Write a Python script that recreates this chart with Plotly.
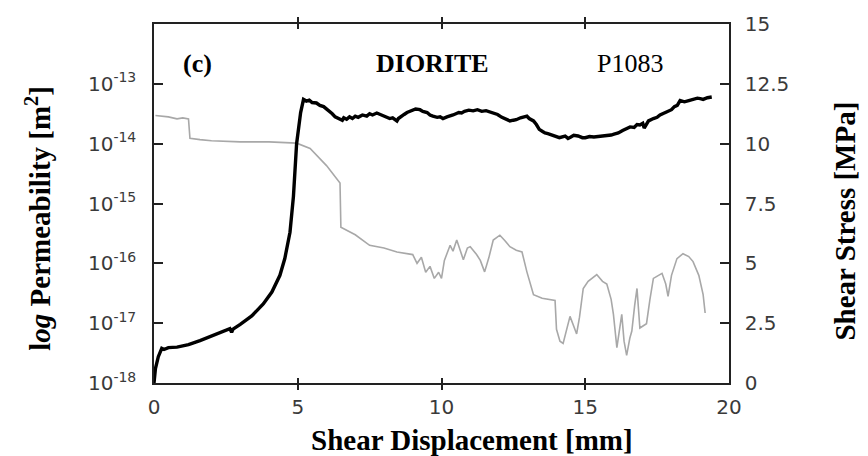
import plotly.graph_objects as go

# Shear displacement [mm] and shear stress [MPa] (black curve, right axis)
disp_stress = [0, 0.05, 0.15, 0.27, 0.35, 0.5, 0.8, 1.2, 1.6, 2.0, 2.4, 2.64, 2.7, 2.75,
               3.0, 3.4, 3.8, 4.1, 4.38, 4.55, 4.73, 4.85, 4.96, 5.1, 5.2, 5.3, 5.4, 5.5,
               5.65, 5.77, 5.9, 6.0, 6.1, 6.2, 6.3, 6.4, 6.55, 6.6, 6.7, 6.8, 6.9, 7.0,
               7.1, 7.25, 7.4, 7.5, 7.6, 7.75, 7.86, 8.0, 8.1, 8.2, 8.3, 8.45, 8.5, 8.6,
               8.7, 8.8, 8.9, 9.0, 9.1, 9.25, 9.35, 9.5, 9.6, 9.7, 9.85, 9.95, 10.05, 10.19,
               10.3, 10.4, 10.5, 10.6, 10.7, 10.8, 10.95, 11.1, 11.25, 11.4, 11.55, 11.8,
               11.95, 12.1, 12.25, 12.38, 12.5, 12.6, 12.75, 12.97, 13.05, 13.2, 13.3, 13.4,
               13.53, 13.6, 13.7, 13.85, 14.0, 14.1, 14.3, 14.4, 14.5, 14.6, 14.75, 14.9,
               15.0, 15.15, 15.3, 15.5, 15.76, 15.9, 16.0, 16.15, 16.3, 16.45, 16.56, 16.7,
               16.8, 16.9, 17.0, 17.05, 17.2, 17.37, 17.5, 17.6, 17.75, 17.9, 18.0, 18.1,
               18.2, 18.3, 18.45, 18.6, 18.75, 18.9, 19.0, 19.1, 19.25, 19.4]
stress = [0, 0.6, 1.1, 1.45, 1.4, 1.48, 1.5, 1.6, 1.77, 1.95, 2.15, 2.27, 2.12, 2.25,
          2.45, 2.8, 3.3, 3.8, 4.5, 5.2, 6.3, 7.8, 10.0, 11.3, 11.85, 11.78, 11.82, 11.72,
          11.7, 11.6, 11.55, 11.45, 11.38, 11.25, 11.12, 11.05, 10.98, 11.08, 11.02, 11.12,
          11.05, 11.15, 11.1, 11.2, 11.15, 11.25, 11.2, 11.28, 11.22, 11.18, 11.12, 11.05,
          11.08, 10.95, 11.05, 11.15, 11.22, 11.3, 11.35, 11.4, 11.45, 11.42, 11.35, 11.3,
          11.2, 11.15, 11.1, 11.12, 11.05, 11.12, 11.15, 11.2, 11.25, 11.3, 11.28, 11.35,
          11.4, 11.37, 11.42, 11.35, 11.38, 11.3, 11.22, 11.1, 11.02, 10.95, 10.98, 11.0,
          11.08, 11.15, 11.05, 10.95, 10.8, 10.6, 10.5, 10.45, 10.42, 10.35, 10.3, 10.25,
          10.32, 10.22, 10.28, 10.35, 10.32, 10.25, 10.25, 10.3, 10.28, 10.3, 10.32, 10.36,
          10.4, 10.45, 10.55, 10.62, 10.7, 10.68, 10.8, 10.78, 10.85, 10.65, 10.95, 11.05,
          11.1, 11.2, 11.28, 11.35, 11.42, 11.55, 11.6, 11.8, 11.75, 11.8, 11.85, 11.9,
          11.88, 11.85, 11.92, 11.95]

# Shear displacement [mm] and permeability [m^2] (grey curve, left log axis)
disp_perm = [0.05, 0.5, 0.8, 1.0, 1.2, 1.25, 1.6, 2.0, 3.0, 4.0, 4.96, 5.43, 6.0, 6.47,
             6.5, 7.0, 7.5, 8.0, 8.45, 9.0, 9.15, 9.3, 9.45, 9.6, 9.75, 9.9, 10.0, 10.1,
             10.3, 10.4, 10.53, 10.65, 10.76, 10.9, 11.0, 11.22, 11.35, 11.5, 11.65, 11.8,
             12.03, 12.2, 12.38, 12.6, 12.8, 12.97, 13.2, 13.5, 13.8, 13.95, 14.0, 14.12,
             14.23, 14.35, 14.47, 14.6, 14.7, 14.8, 14.93, 15.1, 15.4, 15.6, 15.75, 15.9,
             15.98, 16.1, 16.2, 16.27, 16.35, 16.44, 16.55, 16.62, 16.72, 16.8, 16.9, 17.0,
             17.13, 17.25, 17.37, 17.55, 17.67, 17.8, 17.88, 18.0, 18.19, 18.4, 18.6, 18.75,
             18.95, 19.1, 19.17]
permeability = [2.95e-14, 2.8e-14, 2.6e-14, 2.7e-14, 2.6e-14, 1.23e-14, 1.17e-14, 1.12e-14,
                1.07e-14, 1.07e-14, 1.02e-14, 8.3e-15, 4.3e-15, 2.2e-15,
                4.0e-16, 3.0e-16, 2.0e-16, 1.8e-16, 1.55e-16, 1.4e-16, 1.0e-16, 1.26e-16,
                7.1e-17, 8.9e-17, 5.6e-17, 7.1e-17, 5.6e-17, 1.12e-16,
                2.0e-16, 1.6e-16, 2.45e-16, 1.6e-16, 1.15e-16, 1.8e-16, 1.9e-16, 1.4e-16,
                1.12e-16, 7.2e-17, 1.26e-16, 2.45e-16,
                2.95e-16, 2.4e-16, 1.9e-16, 1.66e-16, 1.55e-16, 7.2e-17, 3.0e-17, 2.6e-17,
                2.5e-17, 2.4e-17, 7.9e-18, 5.0e-18,
                4.6e-18, 7.9e-18, 1.3e-17, 8.9e-18, 6.6e-18, 1.26e-17, 3.8e-17, 5.0e-17,
                6.5e-17, 5.0e-17, 4.5e-17, 2.5e-17,
                1.4e-17, 3.9e-18, 7.9e-18, 1.4e-17, 5.0e-18, 2.9e-18, 5.6e-18, 7.4e-18,
                2.0e-17, 3.8e-17, 8.3e-18, 8.9e-18,
                9.8e-18, 2.5e-17, 5.6e-17, 6.3e-17, 6.8e-17, 4.5e-17, 2.8e-17, 6.3e-17,
                1.2e-16, 1.45e-16, 1.3e-16, 1.07e-16,
                6.3e-17, 3.0e-17, 1.48e-17]

# Axis ticks
x_ticks = [0, 5, 10, 15, 20]
perm_ticks = [1e-18, 1e-17, 1e-16, 1e-15, 1e-14, 1e-13]
perm_labels = ["10<sup>-18</sup>", "10<sup>-17</sup>", "10<sup>-16</sup>",
               "10<sup>-15</sup>", "10<sup>-14</sup>", "10<sup>-13</sup>"]
stress_ticks = [0, 2.5, 5, 7.5, 10, 12.5, 15]
stress_labels = ["0", "2.5", "5", "7.5", "10", "12.5", "15"]

serif = "Liberation Serif, Times New Roman, serif"
sans = "DejaVu Sans, Arial, sans-serif"
tick_font = dict(family=sans, size=20, color="#3a3a3a")

fig = go.Figure()
fig.add_trace(go.Scatter(x=disp_perm, y=permeability, mode="lines",
                         line=dict(color="#a8a8a8", width=1.6), yaxis="y"))
fig.add_trace(go.Scatter(x=disp_stress, y=stress, mode="lines",
                         line=dict(color="#000000", width=3.4), yaxis="y2"))

fig.update_layout(
    width=868, height=456,
    margin=dict(l=154, r=139, t=19, b=73),
    paper_bgcolor="white", plot_bgcolor="white",
    showlegend=False,
    xaxis=dict(range=[0, 20], tickvals=x_ticks, ticktext=[str(v) for v in x_ticks],
               ticks="inside", ticklen=5, tickwidth=1.5, tickcolor="#222",
               showline=True, linecolor="#222", linewidth=1.5, mirror="allticks",
               showgrid=False, zeroline=False, tickfont=tick_font,
               ticklabelstandoff=5),
    yaxis=dict(type="log", range=[-18, -12], tickvals=perm_ticks, ticktext=perm_labels,
               ticks="inside", ticklen=9, tickwidth=1.5, tickcolor="#222",
               showline=True, linecolor="#222", linewidth=1.5,
               showgrid=False, zeroline=False, tickfont=tick_font,
               ticklabelstandoff=12),
    yaxis2=dict(range=[0, 15], tickvals=stress_ticks, ticktext=stress_labels,
                overlaying="y", side="right",
                ticks="inside", ticklen=9, tickwidth=1.5, tickcolor="#222",
                showline=True, linecolor="#222", linewidth=1.5,
                showgrid=False, zeroline=False, tickfont=tick_font,
                ticklabelstandoff=10),
)

title_font = dict(family=serif, size=29, color="#000")
fig.add_annotation(text="<b>Shear Displacement [mm]</b>", xref="paper", yref="paper",
                   x=0.553, y=-0.158, showarrow=False, font=title_font,
                   xanchor="center", yanchor="middle")
fig.add_annotation(text="<b>l<i>og</i> Permeability [m<sup>2</sup>]</b>", xref="paper",
                   yref="paper", x=-0.202, y=0.46, textangle=-90, showarrow=False,
                   font=title_font, xanchor="center", yanchor="middle")
fig.add_annotation(text="<b>Shear Stress [MPa]</b>", xref="paper", yref="paper",
                   x=1.202, y=0.45, textangle=-90, showarrow=False, font=title_font,
                   xanchor="center", yanchor="middle")

label_font = dict(family=serif, size=26, color="#000")
fig.add_annotation(text="<b>(c)</b>", x=1.5, y=13.35, xref="x", yref="y2",
                   showarrow=False, font=label_font)
fig.add_annotation(text="<b>DIORITE</b>", x=9.67, y=13.35, xref="x", yref="y2",
                   showarrow=False, font=label_font)
fig.add_annotation(text="P1083", x=16.56, y=13.35, xref="x", yref="y2",
                   showarrow=False, font=label_font)

fig.write_html("out.html")
